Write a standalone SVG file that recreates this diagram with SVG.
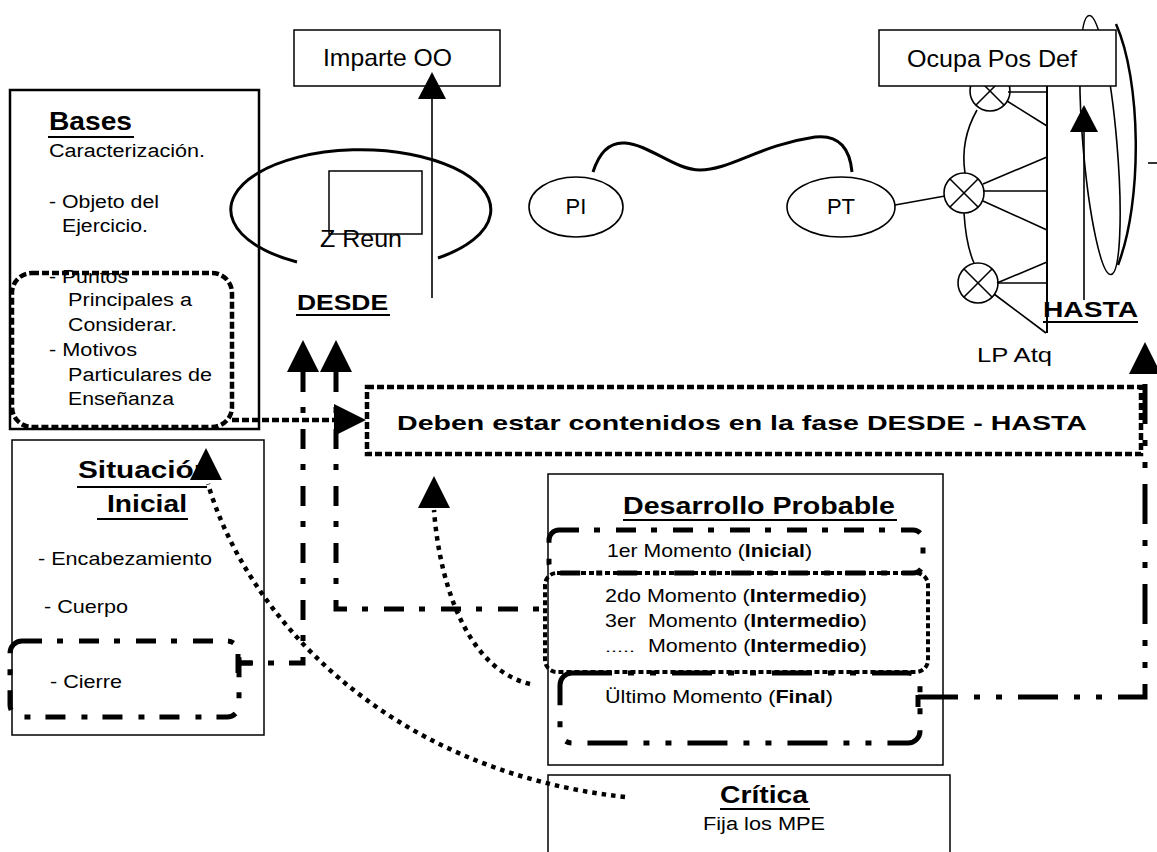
<svg xmlns="http://www.w3.org/2000/svg" xmlns:xlink="http://www.w3.org/1999/xlink" width="1157" height="852" viewBox="0 0 1157 852">
  <style>
    .t { font-family: "Liberation Sans", Arial, sans-serif; fill: #000; }
    .b { font-weight: bold; }
    .box { fill: none; stroke: #000; stroke-width: 1.5; }
    .wbox { fill: #fff; stroke: #000; stroke-width: 1.5; }
    .thin { fill: none; stroke: #000; stroke-width: 1.6; }
    .thick { fill: none; stroke: #000; stroke-width: 3; }
    .ul { stroke: #000; stroke-width: 2; }
    .dot { fill: none; stroke: #000; stroke-width: 4.5; stroke-dasharray: 7 3; }
    .dotc { fill: none; stroke: #000; stroke-width: 4.5; stroke-dasharray: 4.5 5; }
    .dd { fill: none; stroke: #000; stroke-width: 5; stroke-dasharray: 20 15 6 16; }
    .ddd { fill: none; stroke: #000; stroke-width: 5; stroke-dasharray: 40 16 6 16 6 16; }
    .head { fill: #000; }
  </style>
  <defs>
    <!-- filled arrowhead, tip at origin pointing up -->
    <path id="head" class="head" d="M0 0 L-16 32 L16 32 Z"/>
    <path id="headS" class="head" d="M0 0 L-14 27 L14 27 Z"/>
  </defs>
  <rect width="1157" height="852" fill="#fff"/>

  <!-- Bases -->
  <g id="bases">
    <rect class="box" x="10" y="90" width="249" height="339" style="stroke-width:2.5"/>
    <text class="t b" x="49" y="130" font-size="25" textLength="83" lengthAdjust="spacingAndGlyphs">Bases</text>
    <line class="ul" x1="48" y1="137" x2="134" y2="137"/>
    <g class="t" font-size="18">
      <text x="49" y="157" textLength="156" lengthAdjust="spacingAndGlyphs">Caracterización.</text>
      <text x="49" y="208" textLength="110" lengthAdjust="spacingAndGlyphs">- Objeto del</text>
      <text x="62" y="232" textLength="86" lengthAdjust="spacingAndGlyphs">Ejercicio.</text>
      <text x="49" y="283" textLength="79" lengthAdjust="spacingAndGlyphs">- Puntos</text>
      <text x="68" y="306" textLength="124" lengthAdjust="spacingAndGlyphs">Principales a</text>
      <text x="68" y="331" textLength="109" lengthAdjust="spacingAndGlyphs">Considerar.</text>
      <text x="49" y="356" textLength="88" lengthAdjust="spacingAndGlyphs">- Motivos</text>
      <text x="68" y="381" textLength="144" lengthAdjust="spacingAndGlyphs">Particulares de</text>
      <text x="68" y="405" textLength="106" lengthAdjust="spacingAndGlyphs">Enseñanza</text>
    </g>
    <rect class="dot" x="12" y="273" width="220" height="154" rx="20"/>
  </g>

  <!-- Situación Inicial -->
  <g id="situacion-inicial">
    <rect class="box" x="12" y="440" width="252" height="295"/>
    <text class="t b" x="78" y="478" font-size="23" textLength="134" lengthAdjust="spacingAndGlyphs">Situación</text>
    <line class="ul" x1="77" y1="487" x2="207" y2="487"/>
    <text class="t b" x="107" y="512" font-size="23" textLength="80" lengthAdjust="spacingAndGlyphs">Inicial</text>
    <line class="ul" x1="97" y1="519" x2="188" y2="519"/>
    <g class="t" font-size="19">
      <text x="38" y="565" textLength="174" lengthAdjust="spacingAndGlyphs">- Encabezamiento</text>
      <text x="44" y="613" textLength="84" lengthAdjust="spacingAndGlyphs">- Cuerpo</text>
      <text x="50" y="688" textLength="72" lengthAdjust="spacingAndGlyphs">- Cierre</text>
    </g>
    <rect class="dd" x="10" y="641" width="229" height="76" rx="12"/>
  </g>

  <!-- Imparte OO -->
  <g id="imparte-oo">
    <rect class="box" x="294" y="30" width="206" height="56"/>
    <text class="t" x="323" y="66" font-size="24" textLength="129" lengthAdjust="spacingAndGlyphs">Imparte OO</text>
  </g>

  <!-- Zona de reunión -->
  <g id="z-reun">
    <path class="thick" d="M297 262 A130 60 0 1 1 438 258"/>
    <rect class="box" x="329" y="171" width="93" height="63"/>
    <text class="t" x="320" y="247" font-size="24" textLength="82" lengthAdjust="spacingAndGlyphs">Z Reun</text>
  </g>

  <!-- DESDE -->
  <g id="desde">
    <text class="t b" x="297" y="310" font-size="22" textLength="91" lengthAdjust="spacingAndGlyphs">DESDE</text>
    <line class="ul" x1="296" y1="315" x2="390" y2="315"/>
  </g>

  <!-- PI / PT -->
  <g id="pi">
    <ellipse class="thin" cx="576" cy="207" rx="47" ry="30"/>
    <text class="t" x="576" y="214" font-size="22" text-anchor="middle">PI</text>
  </g>
  <g id="pt">
    <ellipse class="thin" cx="841" cy="207" rx="54" ry="30"/>
    <text class="t" x="841" y="214" font-size="22" text-anchor="middle">PT</text>
  </g>

  <!-- LP Atq: posiciones de ataque -->
  <g id="lp-atq">
    <g class="thin">
      <circle cx="990" cy="91" r="20"/>
      <line x1="976" y1="77" x2="1004" y2="105"/>
      <line x1="1004" y1="77" x2="976" y2="105"/>
      <circle cx="964" cy="193" r="20"/>
      <line x1="950" y1="179" x2="978" y2="207"/>
      <line x1="978" y1="179" x2="950" y2="207"/>
      <circle cx="978" cy="283" r="20"/>
      <line x1="964" y1="269" x2="992" y2="297"/>
      <line x1="992" y1="269" x2="964" y2="297"/>
      <path d="M977 110 Q960 140 965 173"/>
      <path d="M964 213 Q966 245 974 263"/>
      <line x1="1008" y1="92" x2="1047" y2="92"/>
      <line x1="1007" y1="101" x2="1047" y2="126"/>
      <line x1="983" y1="184" x2="1047" y2="157"/>
      <line x1="984" y1="191" x2="1047" y2="191"/>
      <line x1="983" y1="201" x2="1047" y2="230"/>
      <line x1="997" y1="283" x2="1047" y2="262"/>
      <line x1="998" y1="283" x2="1047" y2="283"/>
      <line x1="994" y1="294" x2="1046" y2="333"/>
      <line x1="1047" y1="86" x2="1047" y2="333" style="stroke-width:2"/>
      <line x1="1148" y1="163" x2="1157" y2="163"/>
    </g>
    <ellipse class="thin" cx="1100" cy="145" rx="17" ry="130" transform="rotate(-4.8 1100 145)"/>
    <path d="M1116 24 C1141 80 1143 200 1118 265" fill="none" stroke="#000" stroke-width="2.5"/>
    <text class="t" x="977" y="362" font-size="21" textLength="75" lengthAdjust="spacingAndGlyphs">LP Atq</text>
  </g>

  <!-- Ocupa Pos Def -->
  <g id="ocupa-pos-def">
    <rect class="wbox" x="879" y="30" width="237" height="56"/>
    <text class="t" x="907" y="67" font-size="24" textLength="170" lengthAdjust="spacingAndGlyphs">Ocupa Pos Def</text>
  </g>

  <!-- HASTA -->
  <g id="hasta">
    <text class="t b" x="1043" y="317" font-size="22" textLength="95" lengthAdjust="spacingAndGlyphs">HASTA</text>
    <line class="ul" x1="1043" y1="322" x2="1138" y2="322"/>
  </g>

  <!-- Fase DESDE - HASTA -->
  <g id="fase">
    <rect class="dot" x="367" y="387" width="774" height="67"/>
    <text class="t b" x="397" y="430" font-size="21" textLength="690" lengthAdjust="spacingAndGlyphs">Deben estar contenidos en la fase DESDE - HASTA</text>
  </g>

  <!-- Desarrollo Probable -->
  <g id="desarrollo-probable">
    <rect class="box" x="548" y="474" width="395" height="291"/>
    <text class="t b" x="623" y="514" font-size="23" textLength="272" lengthAdjust="spacingAndGlyphs">Desarrollo Probable</text>
    <line class="ul" x1="623" y1="520" x2="897" y2="520"/>
    <g class="t" font-size="18.5">
      <text x="607" y="557" textLength="205" lengthAdjust="spacingAndGlyphs">1er Momento (<tspan class="b">Inicial</tspan>)</text>
      <text x="605" y="602" textLength="262" lengthAdjust="spacingAndGlyphs">2do Momento (<tspan class="b">Intermedio</tspan>)</text>
      <text x="605" y="627" textLength="262" lengthAdjust="spacingAndGlyphs" style="white-space:pre">3er  Momento (<tspan class="b">Intermedio</tspan>)</text>
      <text x="605" y="652" font-size="12" textLength="30" lengthAdjust="spacingAndGlyphs">.....</text>
      <text x="648" y="652" textLength="219" lengthAdjust="spacingAndGlyphs">Momento (<tspan class="b">Intermedio</tspan>)</text>
      <text x="605" y="703" textLength="228" lengthAdjust="spacingAndGlyphs">Ültimo Momento (<tspan class="b">Final</tspan>)</text>
    </g>
    <rect class="dd" x="549" y="530" width="374" height="43" rx="10"/>
    <rect x="545" y="573" width="383" height="99" rx="12" fill="none" stroke="#000" stroke-width="4" stroke-dasharray="5 3"/>
    <rect class="ddd" x="560" y="673" width="360" height="70" rx="12"/>
  </g>

  <!-- Crítica -->
  <g id="critica">
    <rect class="box" x="548" y="775" width="402" height="90"/>
    <text class="t b" x="720" y="803" font-size="24" textLength="88" lengthAdjust="spacingAndGlyphs">Crítica</text>
    <line class="ul" x1="720" y1="809" x2="810" y2="809"/>
    <text class="t" x="703" y="830" font-size="18" textLength="122" lengthAdjust="spacingAndGlyphs">Fija los MPE</text>
  </g>

  <!-- connectors -->
  <g id="connectors">
    <!-- ruta PI - PT y enlace a la LP -->
    <path class="thick" d="M593 172 C600 150 612 142 625 143 C650 145 675 170 700 170 C730 170 760 145 815 137 C840 134 850 150 852 172"/>
    <line class="thin" x1="895" y1="205" x2="945" y2="196"/>

    <!-- Z Reun -> Imparte OO -->
    <line class="thin" x1="432" y1="298" x2="432" y2="96"/>
    <use xlink:href="#headS" transform="translate(432,72)"/>

    <!-- HASTA -> Ocupa Pos Def -->
    <line class="thin" x1="1084" y1="300" x2="1084" y2="130"/>
    <use xlink:href="#headS" transform="translate(1084,105)"/>

    <!-- Bases -> fase -->
    <line class="dot" x1="232" y1="420" x2="336" y2="420"/>
    <use xlink:href="#head" transform="translate(366,420) rotate(90)"/>

    <!-- Cierre -> DESDE -->
    <path class="dd" d="M303 372 V663 H240"/>
    <line x1="238" y1="654" x2="238" y2="673" stroke="#000" stroke-width="5"/>
    <line x1="238" y1="663" x2="253" y2="663" stroke="#000" stroke-width="5"/>
    <use xlink:href="#head" transform="translate(303,340)"/>

    <!-- momentos intermedios -> DESDE -->
    <path class="dd" d="M336 372 V609 H548"/>
    <use xlink:href="#head" transform="translate(336,340)"/>

    <!-- último momento -> HASTA -->
    <path class="ddd" d="M918 697 H1145 V372"/>
    <line x1="918" y1="695" x2="918" y2="707" stroke="#000" stroke-width="5"/>
    <use xlink:href="#head" transform="translate(1145,342)"/>

    <!-- desarrollo -> fase -->
    <path class="dotc" d="M530 684 C470 670 440 590 434 510"/>
    <use xlink:href="#head" transform="translate(434,476)"/>

    <!-- crítica -> situación inicial -->
    <path class="dotc" d="M625 797 C380 770 245 610 208 484"/>
    <use xlink:href="#head" transform="translate(206,448)"/>
  </g>
</svg>
